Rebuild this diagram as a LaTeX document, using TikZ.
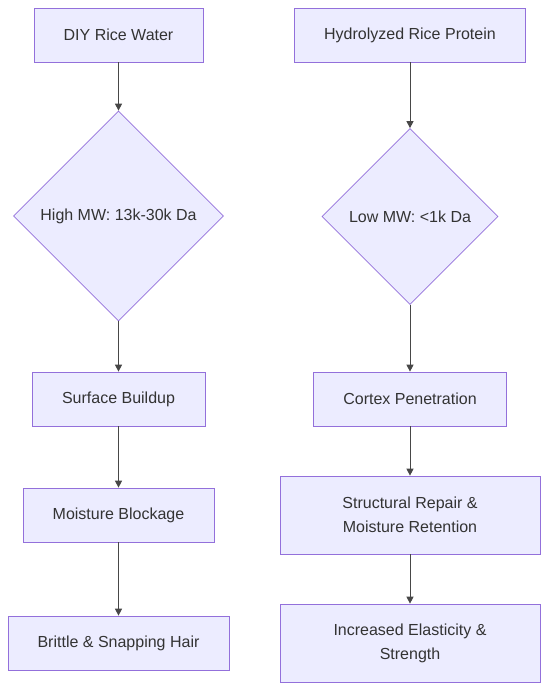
\documentclass[tikz,border=0pt]{standalone}
\usepackage{fontspec}
\setmainfont{Liberation Sans}
\usetikzlibrary{shapes.geometric,arrows.meta}
\definecolor{nodefill}{HTML}{ECECFF}
\definecolor{nodeline}{HTML}{9370DB}
\definecolor{txt}{HTML}{333333}
\tikzset{
  box/.style={draw=nodeline,fill=nodefill,line width=0.7pt,text=txt,align=center,inner sep=0pt,font=\fontsize{16}{24}\selectfont},
  dia/.style={box,diamond,aspect=1},
  conn/.style={draw=txt!90,line width=1pt,-{Triangle[length=7pt,width=7pt]}}
}
\begin{document}
\begin{tikzpicture}[x=1pt,y=-1pt]
\useasboundingbox (0,0) rectangle (548,690);
\node[box,minimum width=169pt,minimum height=54pt] (a1) at (118.5,35) {DIY Rice Water};
\node[box,minimum width=231pt,minimum height=54pt] (b1) at (410,35) {Hydrolyzed Rice Protein};
\node[dia,minimum width=210pt,minimum height=210pt] (a2) at (118.5,216) {High MW: 13k-30k Da};
\node[dia,minimum width=176pt,minimum height=176pt] (b2) at (410,216.5) {Low MW: <1k Da};
\node[box,minimum width=173pt,minimum height=54pt] (a3) at (118.5,399) {Surface Buildup};
\node[box,minimum width=193pt,minimum height=54pt] (b3) at (410,399) {Cortex Penetration};
\node[box,minimum width=191pt,minimum height=54pt] (a4) at (118.5,515) {Moisture Blockage};
\node[box,minimum width=260pt,minimum height=78pt] (b4) at (410,515) {Structural Repair \&\\ Moisture Retention};
\node[box,minimum width=221pt,minimum height=54pt] (a5) at (118.5,643) {Brittle \& Snapping Hair};
\node[box,minimum width=260pt,minimum height=78pt] (b5) at (410,643) {Increased Elasticity \&\\ Strength};
\draw[conn] (a1) -- (a2);
\draw[conn] (a2) -- (a3);
\draw[conn] (a3) -- (a4);
\draw[conn] (a4) -- (a5);
\draw[conn] (b1) -- (b2);
\draw[conn] (b2) -- (b3);
\draw[conn] (b3) -- (b4);
\draw[conn] (b4) -- (b5);
\end{tikzpicture}
\end{document}
